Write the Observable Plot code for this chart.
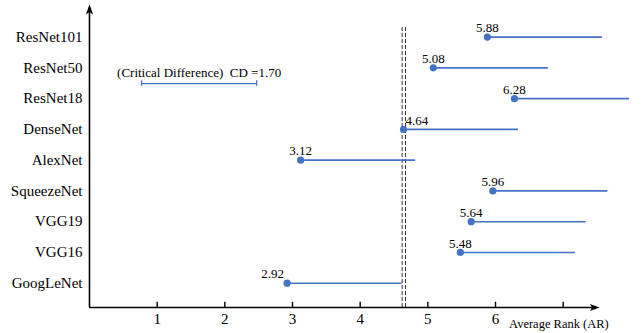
<!DOCTYPE html>
<html>
<head>
<meta charset="utf-8">
<script src="https://cdn.jsdelivr.net/npm/d3@7"></script>
<script src="https://cdn.jsdelivr.net/npm/@observablehq/plot@0.6"></script>
<style>
  html, body { margin: 0; padding: 0; background: #fff; }
  #chart { width: 642px; height: 333px; overflow: hidden; }
</style>
</head>
<body>
<div id="chart"></div>
<script>
// ---- data ----
const models = ["ResNet101", "ResNet50", "ResNet18", "DenseNet", "AlexNet", "SqueezeNet", "VGG19", "VGG16", "GoogLeNet"];
const avgRank = [5.88, 5.08, 6.28, 4.64, 3.12, 5.96, 5.64, 5.48, 2.92];
const cdValue = 1.70;
const cdStart = 0.77;
const thresholds = [4.62, 4.67];
const xTickValues = [1, 2, 3, 4, 5, 6, 7];
const xTickLabels = ["1", "2", "3", "4", "5", "6", ""];
const xAxisTitle = "Average Rank (AR)";
const cdLabel = "(Critical Difference)\u00a0\u00a0CD =" + cdValue.toFixed(2);

// ---- derived ----
const n = models.length;
const rows = models.map((m, i) => ({model: m, rank: avgRank[i], end: avgRank[i] + cdValue, y: n - i}));
const yTicks = rows.map(d => d.y);
const nameByY = new Map(rows.map(d => [d.y, d.model]));
const ticks = xTickValues.map((v, i) => ({v, label: xTickLabels[i]}));

const yMin = 0.21, yMax = 10.06, xAxisEnd = 7.54;
const blue = "#4472C4";
const font = "Liberation Serif, Times New Roman, serif";

// label placement tweaks (avoid dashed lines)
const anchorFor = d => d.model === "DenseNet" ? "start" : d.model === "GoogLeNet" ? "end" : "middle";
const dxFor = d => d.model === "DenseNet" ? 2 : d.model === "GoogLeNet" ? -3 : 0;

const arrowHead = {
  draw(ctx) {
    ctx.moveTo(0, 0);
    ctx.lineTo(3.6, 10);
    ctx.lineTo(0, 7.5);
    ctx.lineTo(-3.6, 10);
    ctx.closePath();
  }
};

const byAnchor = a => rows.filter(d => anchorFor(d) === a);

const plot = Plot.plot({
  width: 642,
  height: 333,
  marginLeft: 89,
  marginRight: 642 - 89 - 8 * 67.67,
  marginTop: 4,
  marginBottom: 26,
  x: {domain: [0, 8], axis: null},
  y: {domain: [yMin, yMax], axis: null},
  style: {fontFamily: font, background: "#fff", overflow: "visible"},
  marks: [
    // y tick labels (model names)
    Plot.axisY({ticks: yTicks, tickFormat: v => nameByY.get(v), tickSize: 0, tickPadding: 7, fontSize: 15, label: null, fill: "#000"}),
    // dashed critical lines
    ...thresholds.map(t => Plot.ruleX([t], {y1: yMin, y2: 9.32, stroke: "#333", strokeWidth: 1, strokeDasharray: "4,2"})),
    // rank intervals
    Plot.ruleY(rows, {x1: "rank", x2: "end", y: "y", stroke: blue, strokeWidth: 1.6}),
    Plot.dot(rows, {x: "rank", y: "y", r: 3.6, fill: blue, stroke: null}),
    // value labels
    ...["start", "middle", "end"].map(a => Plot.text(byAnchor(a), {
      x: "rank", y: "y", text: d => d.rank.toFixed(2), textAnchor: a, dx: dxFor(byAnchor(a)[0] || {}),
      dy: -9, fontSize: 13, fill: "#000"
    })),
    // CD bar
    Plot.ruleY([7.49], {x1: cdStart, x2: cdStart + cdValue, stroke: blue, strokeWidth: 1.3}),
    Plot.ruleX([cdStart, cdStart + cdValue], {y1: 7.49 - 0.09, y2: 7.49 + 0.09, stroke: blue, strokeWidth: 1.3}),
    Plot.text([cdStart + cdValue / 2], {x: d => d, y: 7.49, text: () => cdLabel, dy: -11, fontSize: 13, fill: "#000"}),
    // axes lines
    Plot.ruleX([0], {y1: yMin, y2: yMax - 0.1, stroke: "#000", strokeWidth: 1.6}),
    Plot.ruleY([yMin], {x1: 0, x2: xAxisEnd - 0.05, stroke: "#000", strokeWidth: 1.6}),
    Plot.dot([{x: 0, y: yMax}], {x: "x", y: "y", symbol: arrowHead, fill: "#000", stroke: null, r: 4}),
    Plot.dot([{x: xAxisEnd, y: yMin}], {x: "x", y: "y", symbol: arrowHead, rotate: 90, fill: "#000", stroke: null, r: 4}),
    // x ticks
    Plot.ruleX(ticks, {x: "v", y1: yMin, y2: yMin + 0.17, stroke: "#000", strokeWidth: 1.4}),
    Plot.text(ticks, {x: "v", y: yMin, text: "label", dy: 12, fontSize: 15, fill: "#000"}),
    Plot.text([xAxisTitle], {x: 6.2, y: yMin, text: d => d, textAnchor: "start", dy: 16, fontSize: 12.5, fill: "#000"})
  ]
});
document.getElementById("chart").appendChild(plot);
</script>
</body>
</html>
